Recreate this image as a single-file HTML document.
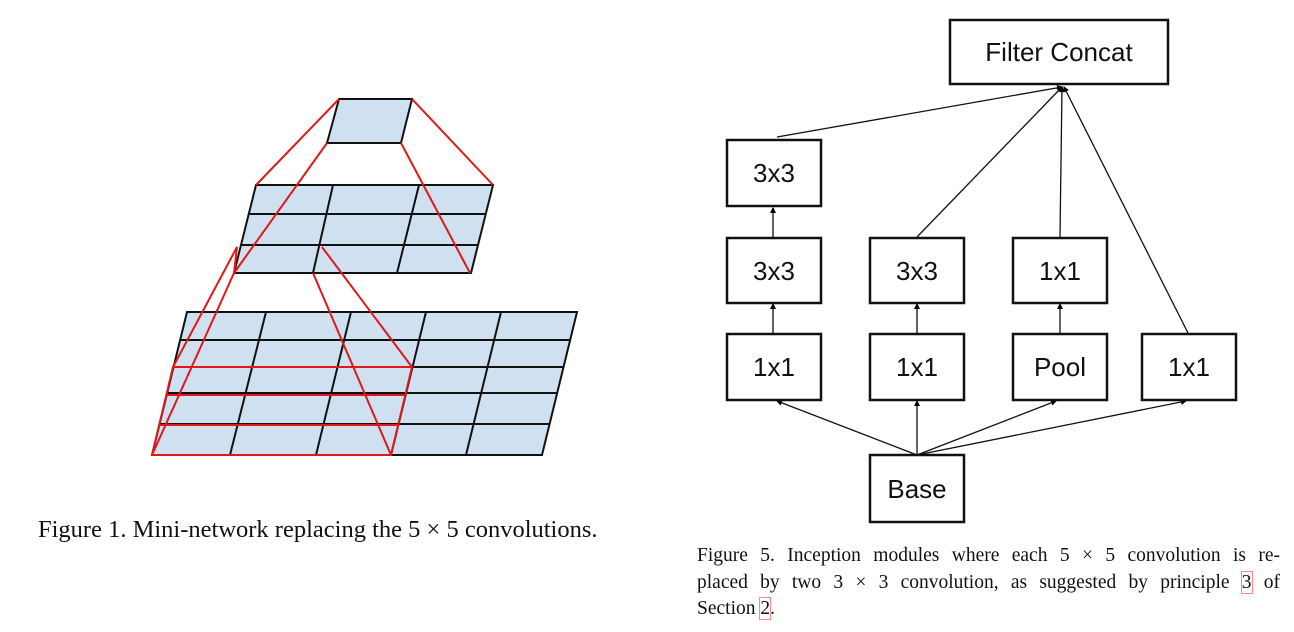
<!DOCTYPE html>
<html><head><meta charset="utf-8"><style>
body{margin:0;width:1294px;height:632px;background:#fff;overflow:hidden;position:relative}
.cap1{position:absolute;left:38px;top:516px;font:24.5px "Liberation Serif",serif;color:#111;white-space:nowrap}
.cap5{position:absolute;left:697px;top:543px;width:583px;font:19.5px/26.5px "Liberation Serif",serif;color:#111}
.cap5 div{text-align:justify;text-align-last:justify;white-space:nowrap}
.cap5 div.l{text-align-last:left}
.r{outline:1px solid #f88;outline-offset:0}
</style></head><body>
<svg width="1294" height="632" style="position:absolute;left:0;top:0">
<g fill="#cfe0f1" stroke="#111" stroke-width="2">
<polygon points="339,99 412,99 401,143 327,143"/>
<polygon points="256,185 493,185 471,273 234,273"/>
<polygon points="187,312 577,312 542,455 152,455"/>
</g>
<g stroke="#111" stroke-width="2" fill="none">
<line x1="249" y1="214" x2="486" y2="214"/><line x1="241" y1="245" x2="479" y2="245"/>
<line x1="333" y1="185" x2="313" y2="273"/><line x1="419" y1="185" x2="397" y2="273"/>
<line x1="180" y1="340" x2="570" y2="340"/><line x1="174" y1="367" x2="564" y2="367"/>
<line x1="167" y1="393" x2="558" y2="393"/><line x1="160" y1="424" x2="550" y2="424"/>
<line x1="266" y1="312" x2="230" y2="455"/><line x1="351" y1="312" x2="316" y2="455"/>
<line x1="426" y1="312" x2="391" y2="455"/><line x1="501" y1="312" x2="466" y2="455"/>
</g>
<g stroke="#e01818" stroke-width="2" fill="none">
<line x1="339" y1="99" x2="256" y2="185"/><line x1="412" y1="99" x2="493" y2="185"/>
<line x1="327" y1="143" x2="234" y2="273"/><line x1="401" y1="143" x2="470" y2="273"/>
<line x1="237" y1="247" x2="234" y2="273"/>
<line x1="237" y1="247" x2="173" y2="367"/><line x1="234" y1="273" x2="152" y2="455"/>
<line x1="313" y1="273" x2="391" y2="455"/><line x1="322" y1="247" x2="412" y2="367"/>
<polygon points="173,367 412,367 391,455 152,455"/>
<line x1="166" y1="395" x2="405" y2="395"/><line x1="159" y1="425" x2="398" y2="425"/>
</g>
<defs><marker id="a" markerWidth="6" markerHeight="6" refX="5" refY="3" orient="auto" markerUnits="userSpaceOnUse"><path d="M0,0 L6,3 L0,6z" fill="#000"/></marker></defs>
<g stroke="#111" stroke-width="1.3" fill="none" marker-end="url(#a)">
<line x1="777" y1="137" x2="1062" y2="87"/><line x1="917" y1="237" x2="1062" y2="87"/>
<line x1="1060" y1="237" x2="1062" y2="87"/><line x1="1188" y1="333" x2="1064" y2="87"/>
<line x1="773" y1="237" x2="773" y2="208"/><line x1="773" y1="333" x2="773" y2="304"/>
<line x1="917" y1="333" x2="917" y2="304"/><line x1="1060" y1="333" x2="1060" y2="304"/>
<line x1="917" y1="455" x2="777" y2="401"/><line x1="917" y1="455" x2="917" y2="401"/>
<line x1="917" y1="455" x2="1056" y2="401"/><line x1="917" y1="455" x2="1186" y2="401"/>
</g>
<g fill="#fff" stroke="#111" stroke-width="2.5">
<rect x="950" y="20" width="218" height="64"/>
<rect x="727" y="140" width="94" height="66"/>
<rect x="727" y="238" width="94" height="65"/><rect x="870" y="238" width="94" height="65"/><rect x="1013" y="238" width="94" height="65"/>
<rect x="727" y="334" width="94" height="66"/><rect x="870" y="334" width="94" height="66"/><rect x="1013" y="334" width="94" height="66"/><rect x="1142" y="334" width="94" height="66"/>
<rect x="870" y="455" width="94" height="67"/>
</g>
<g font-family="Liberation Sans, sans-serif" font-size="26" text-anchor="middle" fill="#111">
<text x="1059" y="61">Filter Concat</text>
<text x="774" y="182">3x3</text>
<text x="774" y="280">3x3</text><text x="917" y="280">3x3</text><text x="1060" y="280">1x1</text>
<text x="774" y="376">1x1</text><text x="917" y="376">1x1</text><text x="1060" y="376">Pool</text><text x="1189" y="376">1x1</text>
<text x="917" y="498">Base</text>
</g>
</svg>
<div class="cap1">Figure 1. Mini-network replacing the 5 × 5 convolutions.</div>
<div class="cap5">
<div>Figure 5. Inception modules where each 5 × 5 convolution is re-</div>
<div>placed by two 3 × 3 convolution, as suggested by principle <span class="r">3</span> of</div>
<div class="l">Section <span class="r">2</span>.</div>
</div>
</body></html>
